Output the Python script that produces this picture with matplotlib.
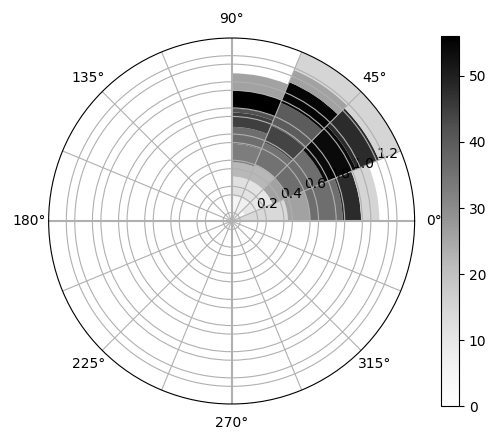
import numpy as np
import matplotlib
matplotlib.use("Agg")
import matplotlib.pyplot as plt
from matplotlib import cm, colors

# sector start angles (degrees) and sector width
sector_start_deg = [0.0, 22.5, 45.0, 67.5]
sector_width_deg = 22.5

# radial bin edges per sector and the counts in each bin
edges_s0 = [0.0, 0.43, 0.60, 0.85, 0.99, 1.13]
counts_s0 = [14, 26, 36, 48, 15]
edges_s1 = [0.0, 0.11, 0.34, 0.46, 0.77, 1.03, 1.22, 1.40]
counts_s1 = [3, 10, 26, 36, 54, 48, 15]
edges_s2 = [0.0, 0.19, 0.34, 0.47, 0.65, 0.79, 0.98, 1.15, 1.25, 1.40]
counts_s2 = [7, 11, 22, 35, 44, 40, 55, 26, 15]
edges_s3 = [0.0, 0.19, 0.34, 0.45, 0.59, 0.72, 0.83, 0.86, 1.00, 1.13]
counts_s3 = [5, 12, 22, 33, 36, 45, 42, 56, 26]

count_min, count_max = 0, 56
r_max = 1.40

theta_ticks_deg = [i * 22.5 for i in range(16)]
theta_labels = ["0°", "", "45°", "", "90°", "", "135°", "", "180°", "",
                "225°", "", "270°", "", "315°", ""]
r_major = [0.2, 0.4, 0.6, 0.8, 1.0, 1.2]
r_major_labels = ["0.2", "0.4", "0.6", "0.8", "1.0", "1.2"]
r_minor = [0.065, 0.265, 0.465, 0.665, 0.865, 1.065, 1.265]

fig = plt.figure(figsize=(4.96, 4.42), dpi=100)
ax = fig.add_axes([0.098, 0.086, 0.738, 0.828], projection="polar")
cax = fig.add_axes([0.890, 0.081, 0.0355, 0.837])

cmap = plt.get_cmap("Greys")
norm = colors.Normalize(vmin=count_min, vmax=count_max)

all_edges = [edges_s0, edges_s1, edges_s2, edges_s3]
all_counts = [counts_s0, counts_s1, counts_s2, counts_s3]
for t0, edges, counts in zip(sector_start_deg, all_edges, all_counts):
    e = np.asarray(edges)
    ax.bar(np.full(len(counts), np.deg2rad(t0)), np.diff(e),
           width=np.deg2rad(sector_width_deg), bottom=e[:-1], align="edge",
           color=cmap(norm(np.asarray(counts))), edgecolor="none",
           linewidth=0)

ax.set_xticks(np.deg2rad(theta_ticks_deg))
ax.set_xticklabels(theta_labels)
rt = r_major + r_minor
rl = r_major_labels + [""] * len(r_minor)
order = np.argsort(rt)
ax.set_yticks(np.asarray(rt)[order])
ax.set_yticklabels(np.asarray(rl, dtype=object)[order])
ax.set_ylim(0, r_max)
ax.grid(True)
for i, gl in enumerate(ax.xaxis.get_gridlines()):
    if i % 4 == 0:
        gl.set_linewidth(1.5)

sm = cm.ScalarMappable(norm=norm, cmap=cmap)
sm.set_array([])
cb = fig.colorbar(sm, cax=cax)
cb.set_ticks([0, 10, 20, 30, 40, 50])

fig.savefig("out.png", dpi=100)
